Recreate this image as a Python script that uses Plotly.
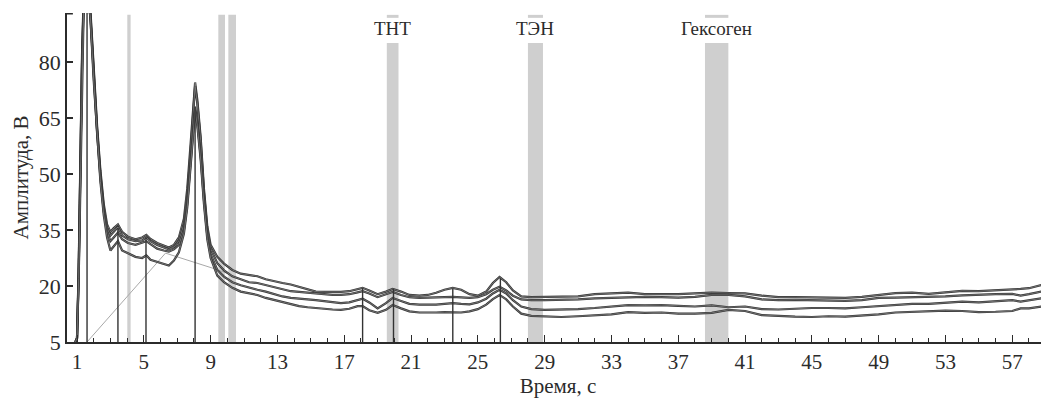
import plotly.graph_objects as go

# ---------------- data ----------------
time_s = [0.9, 1.0, 1.1, 1.2, 1.3, 1.4, 1.6, 1.8, 2.0, 2.2, 2.4, 2.6, 2.8, 3.0, 3.2, 3.45,
          3.7, 4.05, 4.5, 4.9, 5.15, 5.4, 5.8, 6.2, 6.5, 6.8, 7.1, 7.4, 7.6, 7.8, 7.95, 8.07,
          8.2, 8.4, 8.6, 8.8, 9.0, 9.4, 9.8, 10.3, 10.8, 11.3, 11.8, 12.3, 12.8, 13.3, 13.8,
          14.3, 14.8, 15.3, 15.8, 16.3, 16.8, 17.3, 17.8, 18.1, 18.5, 19.0, 19.5, 19.9, 20.4,
          20.9, 21.5, 22.0, 22.5, 23.0, 23.5, 24.0, 24.5, 25.0, 25.5, 25.9, 26.3, 26.7, 27.1,
          27.6, 28.2, 29, 30, 31, 32, 33, 34, 35, 36, 37, 38, 39, 40, 41, 42, 43, 44, 45, 46,
          47, 48, 49, 50, 51, 52, 53, 54, 55, 56, 57, 57.5, 58, 59.2]

curve_1 = [5, 6, 25, 55, 82, 98, 102, 94, 78, 63, 51, 42, 36.5, 34.5, 35.5, 36.5,
           34.5, 33.2, 32.5, 33.0, 33.7, 32.6, 31.5, 30.8, 30.3, 31.0, 33.0, 38.0, 46.0, 58.0, 69.0, 74.5,
           70.0, 60.0, 46.0, 36.0, 31.0, 27.8, 26.0, 24.3, 23.3, 22.9, 22.6, 21.8, 21.2, 20.8, 20.4,
           19.7, 19.0, 18.5, 18.4, 18.3, 18.4, 18.6, 19.2, 19.5, 18.8, 17.8, 18.5, 19.2, 18.5,
           17.6, 17.4, 17.6, 18.2, 19.0, 19.5, 19.0, 17.8, 17.4, 18.5, 20.8, 22.4, 21.0, 18.8,
           17.2, 17.0, 17.0, 17.0, 17.2, 17.8, 18.1, 18.2, 17.8, 17.7, 17.8, 18.0, 18.2, 18.1, 18.0, 17.4,
           17.0, 17.0, 17.0, 16.9, 16.8, 17.1, 17.6, 18.1, 18.2, 17.9, 18.3, 18.7, 18.6, 18.8, 19.0, 19.2, 19.4, 20.8]

curve_2 = [5, 6, 24, 53, 80, 97, 101, 93, 77, 62, 50, 41, 35.5, 33.5, 34.5, 35.8,
           33.5, 32.5, 32.0, 32.2, 33.0, 32.0, 31.0, 30.2, 29.8, 30.4, 32.0, 36.5, 44.0, 56.0, 67.0, 73.5,
           69.0, 59.0, 45.0, 35.0, 30.0, 26.1, 24.2, 22.6, 21.8, 21.0, 20.8, 20.2, 19.6, 19.0, 18.6,
           18.4, 18.2, 18.1, 17.8, 17.6, 17.6, 17.8, 18.3, 18.6, 18.0, 17.0, 17.8, 18.4, 17.6,
           17.0, 16.8, 16.8, 16.9, 17.0, 17.1, 16.9, 16.8, 17.0, 17.8, 19.0, 19.8, 18.8, 17.4,
           16.4, 16.2, 16.2, 16.2, 16.4, 16.7, 16.9, 17.0, 17.1, 17.0, 16.9, 17.1, 17.6, 17.6, 17.2, 16.4,
           16.2, 16.3, 16.2, 16.2, 16.0, 16.2, 16.8, 16.9, 17.0, 17.1, 17.2, 17.5, 17.7, 17.8, 17.9, 17.4, 17.8, 18.9]

curve_3 = [5, 6, 23, 52, 79, 96, 100, 92, 76, 61, 49, 40, 34.5, 32.0, 33.0, 34.3,
           32.5, 31.5, 31.0, 31.5, 32.0, 31.2, 30.0, 29.5, 29.2, 29.8, 31.0, 35.0, 42.0, 53.0, 62.0, 68.0,
           64.0, 55.0, 43.0, 33.5, 28.5, 24.3, 22.5, 21.0, 20.2, 19.5, 19.0, 18.5, 17.8, 17.2, 16.8,
           16.5, 16.4, 16.2, 16.0, 15.6, 15.4, 15.6, 16.3, 16.6, 15.6, 14.0, 15.4, 16.8, 16.0,
           15.2, 15.0, 14.9, 15.0, 15.2, 15.4, 15.2, 15.1, 15.6, 16.6, 18.0, 19.0, 18.0, 16.2,
           14.5, 13.8, 13.6, 13.6, 13.8, 14.1, 14.6, 14.9, 14.8, 14.9, 14.7, 14.5, 14.8, 14.3, 14.5, 13.8,
           13.7, 14.0, 14.1, 14.1, 14.0, 14.3, 14.6, 15.0, 15.2, 15.2, 15.5, 15.8, 15.6, 15.9, 16.2, 15.8, 16.2, 17.0]

curve_4 = [5, 6, 22, 50, 78, 95, 99, 92, 75, 60, 48, 39, 33.0, 29.5, 30.5, 32.0,
           29.5, 28.8, 27.8, 27.5, 28.2, 27.0, 26.4, 25.8, 25.5, 26.8, 29.0, 34.0, 41.0, 52.0, 61.0, 67.0,
           63.0, 54.0, 42.0, 32.5, 27.5, 22.8, 21.0, 19.5, 18.5, 18.1, 17.6, 16.8, 16.2, 15.7, 15.2,
           14.6, 14.3, 14.1, 13.8, 13.7, 13.6, 13.9, 14.6, 14.6, 13.5, 12.8, 13.6, 14.9, 14.0,
           13.2, 12.9, 12.8, 12.9, 13.0, 13.0, 12.9, 13.2, 13.8, 15.0, 16.5, 17.6, 16.4, 14.5,
           12.6, 12.0, 11.8, 11.7, 11.9, 12.2, 12.4, 13.0, 12.8, 12.9, 12.6, 12.6, 12.8, 13.6, 13.3, 12.2,
           11.9, 11.8, 11.7, 11.9, 11.8, 12.0, 12.4, 12.9, 13.1, 13.2, 13.4, 13.3, 13.0, 13.1, 13.3, 14.0, 14.0, 14.8]

peak_times = [1.6, 3.45, 5.13, 8.07, 18.1, 19.95, 23.5, 26.35]
peak_heights = [100, 35.5, 33.0, 68.0, 19.4, 19.2, 19.2, 22.0]

baseline_x = [1.6, 6.3, 9.1, 10.0]
baseline_y = [5.0, 28.8, 24.8, 23.4]

band_centers = [4.11, 9.66, 10.29, 19.9, 28.45, 39.3]
band_widths = [0.2, 0.4, 0.46, 0.7, 0.9, 1.4]
band_labels = ["", "", "", "ТНТ", "ТЭН", "Гексоген"]

x_tick_vals = [1, 5, 9, 13, 17, 21, 25, 29, 33, 37, 41, 45, 49, 53, 57]
y_tick_vals = [5, 20, 35, 50, 65, 80]

X_RANGE = [0.4, 59.2]
Y_RANGE = [5, 93.1]
LABEL_GAP = [85.1, 91.8]   # band interrupted behind the label text

FONT = "Times New Roman, Liberation Serif, DejaVu Serif, serif"
INK = "#2b2b2b"

fig = go.Figure()

# gray bands
shapes = []
for c, w, lab in zip(band_centers, band_widths, band_labels):
    if lab:
        segs = [(Y_RANGE[0], LABEL_GAP[0]), (LABEL_GAP[1], 92.6)]
    else:
        segs = [(Y_RANGE[0], 92.6)]
    for y0, y1 in segs:
        shapes.append(dict(type="rect", xref="x", yref="y", x0=c - w / 2, x1=c + w / 2,
                           y0=y0, y1=y1, fillcolor="#cfcfcf", line=dict(width=0), layer="below"))

# top bracket tick on y axis
shapes.append(dict(type="line", xref="paper", yref="y", x0=0, x1=0.006, y0=Y_RANGE[1] - 0.2,
                   y1=Y_RANGE[1] - 0.2, line=dict(color=INK, width=1.5)))

# baseline (thin gray)
fig.add_trace(go.Scatter(x=baseline_x, y=baseline_y, mode="lines",
                         line=dict(color="#a8a8a8", width=1), hoverinfo="skip", showlegend=False))

# curves
for cv in (curve_1, curve_2, curve_3, curve_4):
    fig.add_trace(go.Scatter(x=time_s, y=cv, mode="lines",
                             line=dict(color="#333333", width=2.2), showlegend=False))
    fig.add_trace(go.Scatter(x=time_s, y=cv, mode="lines",
                             line=dict(color="#9a9a9a", width=0.6), showlegend=False,
                             hoverinfo="skip"))

# peak stems
sx, sy = [], []
for t, h in zip(peak_times, peak_heights):
    sx += [t, t, None]
    sy += [Y_RANGE[0], h, None]
fig.add_trace(go.Scatter(x=sx, y=sy, mode="lines", line=dict(color="#333333", width=1.4),
                         showlegend=False, hoverinfo="skip"))

annotations = []
for c, lab in zip(band_centers, band_labels):
    if lab:
        annotations.append(dict(x=c, y=88.9, xref="x", yref="y", text=lab, showarrow=False,
                                font=dict(family=FONT, size=19, color=INK)))

# the page body adds an 8px margin, so the figure is sized/offset to compensate
fig.update_layout(
    width=1041, height=393,
    margin=dict(l=59, r=0, t=5, b=59, autoexpand=False),
    plot_bgcolor="white", paper_bgcolor="white",
    shapes=shapes, annotations=annotations,
    font=dict(family=FONT, size=20, color=INK),
    xaxis=dict(range=X_RANGE, tickmode="array", tickvals=x_tick_vals, automargin=False,
               ticks="inside", ticklen=7, tickwidth=1.3, tickcolor=INK,
               showline=True, linecolor=INK, linewidth=1.6, showgrid=False, zeroline=False,
               minor=dict(dtick=1, tick0=0, ticks="inside", ticklen=4, tickcolor=INK, tickwidth=1.1,
                          showgrid=False),
               tickfont=dict(family=FONT, size=21, color=INK),
               title=dict(text="Время, с", font=dict(family=FONT, size=21, color=INK), standoff=2)),
    yaxis=dict(range=Y_RANGE, tickmode="array", tickvals=y_tick_vals, automargin=False,
               ticks="inside", ticklen=6, tickwidth=1.5, tickcolor=INK,
               showline=True, linecolor=INK, linewidth=1.6, showgrid=False, zeroline=False,
               tickfont=dict(family=FONT, size=22, color=INK),
               title=dict(text="Амплитуда, В", font=dict(family=FONT, size=21, color=INK), standoff=4)),
)

fig.write_html("out.html")
